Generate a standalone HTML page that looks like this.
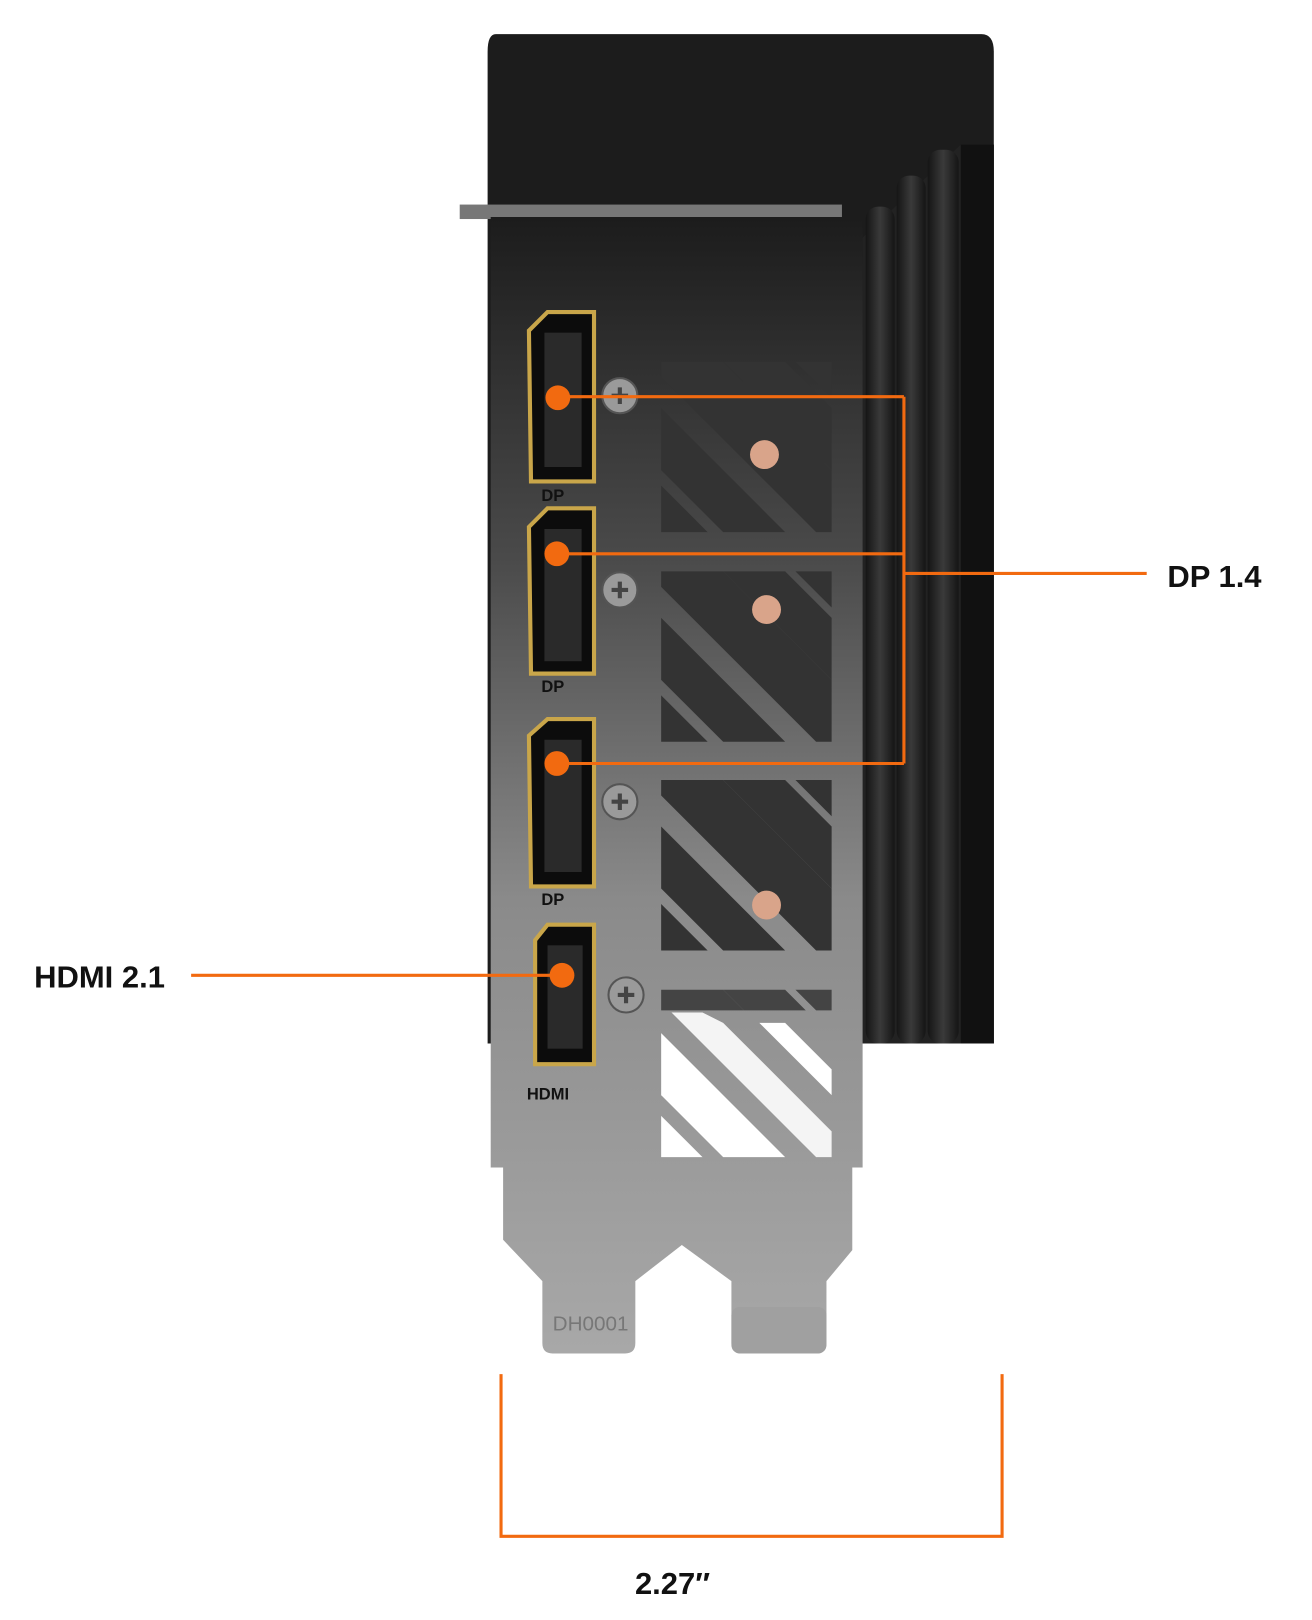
<!DOCTYPE html>
<html><head><meta charset="utf-8"><style>
html,body{margin:0;padding:0;background:#fff;}
svg{display:block;}
text{font-family:"Liberation Sans",sans-serif;font-weight:bold;fill:#111;}
</style></head><body>
<svg width="1312" height="1620" viewBox="0 0 1270 1568" preserveAspectRatio="none" xmlns="http://www.w3.org/2000/svg">
<defs>
<linearGradient id="br" x1="0" y1="0" x2="0" y2="1">
<stop offset="0" stop-color="#1c1c1c"/>
<stop offset="0.3" stop-color="#4a4a4a"/>
<stop offset="0.6" stop-color="#8a8a8a"/>
<stop offset="1" stop-color="#a8a8a8"/>
</linearGradient>
<linearGradient id="fin" x1="0" y1="0" x2="1" y2="0">
<stop offset="0" stop-color="#151515"/><stop offset="0.5" stop-color="#3a3a3a"/><stop offset="1" stop-color="#151515"/>
</linearGradient>
</defs>
<path d="M480 33 H950 Q962 33 962 50 V1010 H472 V50 Q472 33 480 33Z" fill="#1c1c1c"/>
<path d="M835 230 L930 140 H962 V1010 H835Z" fill="#222"/>
<g fill="url(#fin)">
<rect x="838" y="200" width="28" height="810" rx="12"/>
<rect x="868" y="170" width="28" height="840" rx="12"/>
<rect x="898" y="145" width="30" height="865" rx="12"/>
</g>
<rect x="930" y="140" width="32" height="870" fill="#111"/>
<rect x="445" y="198" width="370" height="14" fill="#777"/>
<path d="M475 210 H835 V1130 H825 V1210 L800 1240 V1300 Q800 1310 790 1310 H718 Q708 1310 708 1300 V1240 L660 1205 L615 1240 V1300 Q615 1310 605 1310 H535 Q525 1310 525 1300 V1240 L487 1200 V1130 H475Z" fill="url(#br)"/>
<rect x="708" y="1265" width="92" height="45" rx="8" fill="#a0a0a0"/>
<text x="535" y="1288" style="font-size:20px;font-weight:normal;fill:#777">DH0001</text>
<g fill="#333">
<path d="M640 350 H700 L805 455 V515 H790 L640 365Z"/><path d="M700 350 H760 L805 395 V455Z"/><path d="M770 350 H805 V385Z"/>
<path d="M640 395 L760 515 H700 L640 455Z"/><path d="M640 470 L685 515 H640Z"/>
<path d="M640 553 H700 L805 658 V718 H790 L640 568Z"/><path d="M700 553 H760 L805 598 V658Z"/><path d="M770 553 H805 V588Z"/>
<path d="M640 598 L760 718 H700 L640 658Z"/><path d="M640 673 L685 718 H640Z"/>
<path d="M640 755 H700 L805 860 V920 H790 L640 770Z"/><path d="M700 755 H760 L805 800 V860Z"/><path d="M770 755 H805 V790Z"/>
<path d="M640 800 L760 920 H700 L640 860Z"/><path d="M640 875 L685 920 H640Z"/>
</g>
<g fill="#fff">
<path d="M640 1000 L760 1120 H700 L640 1060Z"/><path d="M640 1080 L680 1120 H640Z"/>
<path d="M700 990 L805 1095 V1120 H790 L650 980 H680Z" fill="#f4f4f4"/>
<path d="M760 990 L805 1035 V1060 L735 990Z"/>
</g>
<g fill="#444"><path d="M640 958 H700 L720 978 H640Z"/><path d="M700 958 H760 L780 978 H720Z"/><path d="M770 958 H805 V978 H790Z"/></g>
<g fill="#d9a48a"><circle cx="740" cy="440" r="14"/><circle cx="742" cy="590" r="14"/><circle cx="742" cy="876" r="14"/></g>
<g fill="#0c0c0c" stroke="#c9a64a" stroke-width="4">
<path d="M512 320 L530 302 H575 V466 H514Z"/>
<path d="M512 510 L530 492 H575 V652 H514Z"/>
<path d="M512 712 L530 696 H575 V858 H514Z"/>
<path d="M518 910 L530 895 H575 V1030 H518Z"/>
</g>
<g fill="#2a2a2a"><rect x="527" y="322" width="36" height="130"/><rect x="527" y="512" width="36" height="128"/><rect x="527" y="716" width="36" height="128"/><rect x="530" y="915" width="34" height="100"/></g>
<g style="font-size:16px;fill:#666" font-weight="normal"><text x="524" y="485">DP</text><text x="524" y="670">DP</text><text x="524" y="876">DP</text><text x="510" y="1064">HDMI</text></g>
<g fill="#9a9a9a" stroke="#555" stroke-width="2"><circle cx="600" cy="383" r="17"/><circle cx="600" cy="571" r="17"/><circle cx="600" cy="776" r="17"/><circle cx="606" cy="963" r="17"/></g>
<g stroke="#444" stroke-width="4"><path d="M592 383h16M600 375v16M592 571h16M600 563v16M592 776h16M600 768v16M598 963h16M606 955v16"/></g>
<g stroke="#f26a10" stroke-width="3" fill="none">
<path d="M540 384 H875 M539 536 H875 M539 739 H875 M875 384 V739 M875 555 H1110"/>
<path d="M185 944 H544"/>
<path d="M485 1330 V1487 H970 V1330"/>
</g>
<g fill="#f26a10"><circle cx="540" cy="385" r="12"/><circle cx="539" cy="536" r="12"/><circle cx="539" cy="739" r="12"/><circle cx="544" cy="944" r="12"/></g>
<text x="1130" y="568" style="font-size:30px">DP 1.4</text>
<text x="33" y="956" style="font-size:30px">HDMI 2.1</text>
<text x="651" y="1543" text-anchor="middle" style="font-size:30px">2.27″</text>
</svg>
</body></html>
